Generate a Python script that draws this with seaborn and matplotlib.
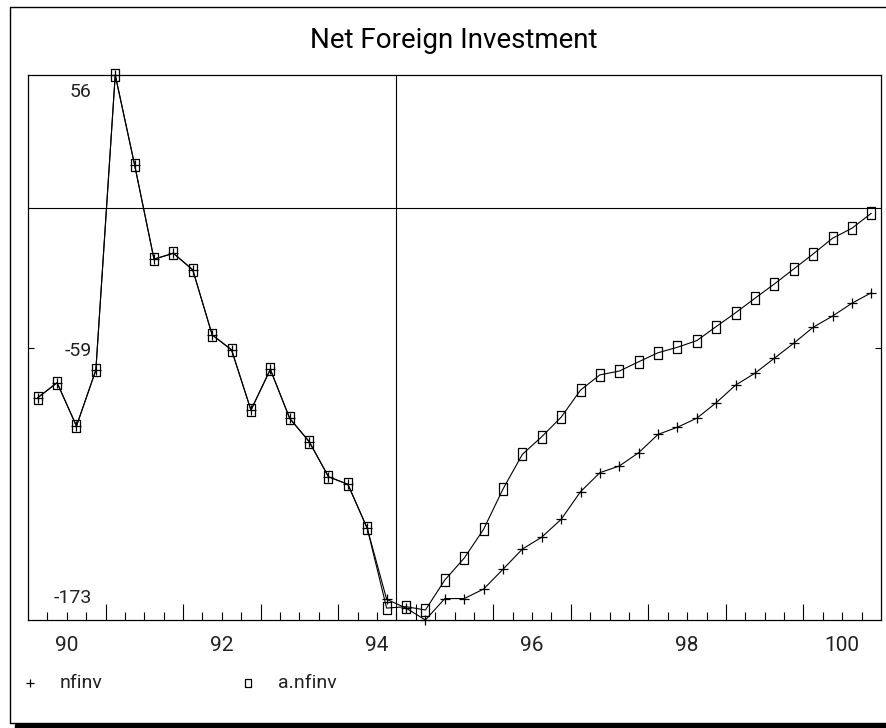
import matplotlib
matplotlib.use("Agg")
import matplotlib.pyplot as plt
import matplotlib.path as mpath
from matplotlib.lines import Line2D
from matplotlib.patches import Rectangle
import seaborn as sns
import pandas as pd

# quarterly periods, 89Q3 .. 100Q2
periods = pd.period_range("1989Q3", "2000Q2", freq="Q")

# actual series (squares)
a_nfinv = [-79.6, -73.3, -91.5, -68.0, 56.0, 18.2, -21.4, -18.9, -25.9, -53.2,
           -59.5, -84.8, -67.7, -88.3, -98.0, -112.8, -116.0, -134.5, -168.0, -167.4,
           -168.8, -156.2, -147.0, -134.9, -118.0, -103.4, -96.0, -87.8, -76.4, -70.0,
           -68.4, -64.5, -60.7, -58.4, -55.6, -49.7, -43.9, -37.8, -31.8, -25.5,
           -19.2, -12.6, -8.4, -2.1]

# model series (plus)
nfinv = [-79.6, -73.3, -91.5, -68.0, 56.0, 18.2, -21.4, -18.9, -25.9, -53.2,
         -59.5, -84.8, -67.7, -88.3, -98.0, -112.8, -116.0, -134.5, -164.3, -168.0,
         -173.0, -164.0, -164.0, -160.0, -151.7, -143.2, -138.2, -130.7, -119.1, -111.1,
         -108.3, -102.7, -95.0, -92.0, -88.2, -81.7, -74.3, -69.3, -63.0, -56.7,
         -50.0, -45.3, -39.9, -35.5]

year_labels = ["90", "92", "94", "96", "98", "100"]
y_labels = ["56", "-59", "-173"]

x = [(p.year - 1900) + (p.quarter - 0.5) / 4 for p in periods]
df = pd.DataFrame({"x": x, "nfinv": nfinv, "a.nfinv": a_nfinv})

sns.set_style("white")
plt.rcParams["font.family"] = ["Roboto", "DejaVu Sans"]

W, H = 886, 728
fig = plt.figure(figsize=(W / 100, H / 100), dpi=100)


def fx(px):
    return px / W


def fy(py):
    return 1 - py / H


ax = fig.add_axes([fx(28), fy(620), fx(881) - fx(28), fy(75) - fy(620)])

# tall rectangle marker like the original
rect = mpath.Path([(-0.32, -0.5), (0.32, -0.5), (0.32, 0.5), (-0.32, 0.5), (-0.32, -0.5)],
                  [1, 2, 2, 2, 79])

sns.lineplot(data=df, x="x", y="nfinv", ax=ax, color="black", linewidth=0.8,
             marker="+", markersize=7.5, markeredgewidth=0.9, markeredgecolor="black",
             clip_on=False, zorder=3)
sns.lineplot(data=df, x="x", y="a.nfinv", ax=ax, color="black", linewidth=0.8,
             marker=rect, markersize=8, markeredgewidth=0.9, markerfacecolor="none",
             markeredgecolor="black", clip_on=False, zorder=4)

ax.axhline(0, color="black", linewidth=0.8, zorder=2)
ax.axvline(94.25, color="black", linewidth=0.8, zorder=2)

ax.set_xlim(89.5, 100.5)
ax.set_ylim(-173, 56)
ax.set_xlabel("")
ax.set_ylabel("")

# quarter ticks, long ones at mid-year
ax.set_xticks([y + 0.5 for y in range(90, 100)])
ax.set_xticks([89.5 + 0.25 * k for k in range(1, 44) if k % 4 != 0], minor=True)
ax.tick_params(axis="x", which="major", direction="in", length=11.5, width=0.8,
               bottom=True, top=False, labelbottom=False, color="black")
ax.tick_params(axis="x", which="minor", direction="in", length=5.8, width=0.8,
               bottom=True, top=False, color="black")
ax.set_yticks([(56 - 173) / 2])
ax.tick_params(axis="y", direction="in", length=4.3, width=0.8, left=True, right=True,
               labelleft=False, color="black")

for s in ax.spines.values():
    s.set_color("black")
    s.set_linewidth(0.9)

# year labels under the axis
for lab in year_labels:
    ax.text(float(lab), -0.047, lab, transform=ax.get_xaxis_transform(),
            ha="center", va="center", fontsize=15, color="#222222")

# value labels inside the frame
ax.text(fx(94) - fx(28), 1 - 17 / 545, y_labels[0], transform=ax.transAxes,
        ha="right", va="center", fontsize=14, color="#222222", zorder=6)
ax.text(fx(94) - fx(28), 0.5 - 3.5 / 545, y_labels[1], transform=ax.transAxes,
        ha="right", va="center", fontsize=14, color="#222222", zorder=6,
        bbox=dict(facecolor="white", edgecolor="none", pad=2.5))
ax.text(fx(94) - fx(28), 22 / 545, y_labels[2], transform=ax.transAxes,
        ha="right", va="center", fontsize=14, color="#222222", zorder=6)

# title
fig.text(fx(454), fy(40), "Net Foreign Investment", ha="center", va="center",
         fontsize=20, color="black")

# legend row
fig.add_artist(Line2D([fx(30)], [fy(683)], marker="+", color="black", markersize=6,
                      markeredgewidth=0.9, transform=fig.transFigure))
fig.text(fx(60), fy(683), "nfinv", ha="left", va="center", fontsize=14, color="#222222")
fig.add_artist(Line2D([fx(248)], [fy(683)], marker=rect, color="black", markersize=6,
                      markerfacecolor="none", markeredgewidth=0.9,
                      transform=fig.transFigure))
fig.text(fx(278), fy(683), "a.nfinv", ha="left", va="center", fontsize=14, color="#222222")

# outer frame with drop shadow
fig.add_artist(Line2D([fx(10), fx(10), fx(886)], [fy(723), fy(7), fy(7)],
                      color="black", linewidth=1.0, transform=fig.transFigure))
fig.add_artist(Line2D([fx(10), fx(886)], [fy(723), fy(723)],
                      color="black", linewidth=1.0, transform=fig.transFigure))
fig.add_artist(Rectangle((fx(15), fy(728)), fx(886) - fx(15), fy(724) - fy(728),
                         color="black", transform=fig.transFigure))

fig.savefig("out.png", dpi=100)
